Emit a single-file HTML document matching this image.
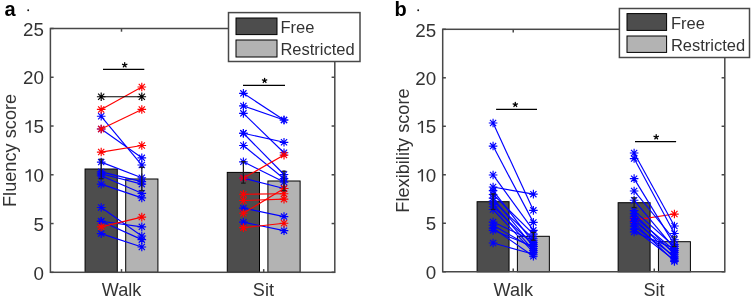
<!DOCTYPE html>
<html><head><meta charset="utf-8"><style>
html,body{margin:0;padding:0;background:#fff;width:752px;height:300px;overflow:hidden}
svg{display:block;filter:blur(0.35px)}
text{font-family:"Liberation Sans", sans-serif}
</style></head><body>
<svg width="752" height="300" viewBox="0 0 752 300" font-family='"Liberation Sans", sans-serif'>
<rect width="752" height="300" fill="#fff"/>
<rect x="50.4" y="28.5" width="284.4" height="243.8" fill="#fff"/>
<rect x="85.07" y="169" width="32.22" height="103.3" fill="#4d4d4d" stroke="#000" stroke-width="1"/>
<rect x="125.7" y="179" width="32.22" height="93.3" fill="#b3b3b3" stroke="#000" stroke-width="1"/>
<rect x="227.27" y="172.4" width="32.22" height="99.9" fill="#4d4d4d" stroke="#000" stroke-width="1"/>
<rect x="267.9" y="181" width="32.22" height="91.3" fill="#b3b3b3" stroke="#000" stroke-width="1"/>
<line x1="101.19" y1="116.27" x2="141.81" y2="165.03" stroke="#0000ff" stroke-width="1.15"/>
<path d="M96.89 116.27H105.49M101.19 111.97V120.57M98.09 113.17L104.28 119.36M98.09 119.36L104.28 113.17" stroke="#0000ff" stroke-width="1.15" fill="none"/>
<path d="M137.51 165.03H146.11M141.81 160.73V169.33M138.72 161.93L144.91 168.12M138.72 168.12L144.91 161.93" stroke="#0000ff" stroke-width="1.15" fill="none"/>
<line x1="101.19" y1="128.95" x2="141.81" y2="157.81" stroke="#0000ff" stroke-width="1.15"/>
<path d="M96.89 128.95H105.49M101.19 124.65V133.25M98.09 125.85L104.28 132.04M98.09 132.04L104.28 125.85" stroke="#0000ff" stroke-width="1.15" fill="none"/>
<path d="M137.51 157.81H146.11M141.81 153.51V162.11M138.72 154.72L144.91 160.91M138.72 160.91L144.91 154.72" stroke="#0000ff" stroke-width="1.15" fill="none"/>
<line x1="101.19" y1="162.1" x2="141.81" y2="177.71" stroke="#0000ff" stroke-width="1.15"/>
<path d="M96.89 162.1H105.49M101.19 157.8V166.4M98.09 159.01L104.28 165.2M98.09 165.2L104.28 159.01" stroke="#0000ff" stroke-width="1.15" fill="none"/>
<path d="M137.51 177.71H146.11M141.81 173.41V182.01M138.72 174.61L144.91 180.8M138.72 180.8L144.91 174.61" stroke="#0000ff" stroke-width="1.15" fill="none"/>
<line x1="101.19" y1="171.85" x2="141.81" y2="181.61" stroke="#0000ff" stroke-width="1.15"/>
<path d="M96.89 171.85H105.49M101.19 167.55V176.15M98.09 168.76L104.28 174.95M98.09 174.95L104.28 168.76" stroke="#0000ff" stroke-width="1.15" fill="none"/>
<path d="M137.51 181.61H146.11M141.81 177.31V185.91M138.72 178.51L144.91 184.7M138.72 184.7L144.91 178.51" stroke="#0000ff" stroke-width="1.15" fill="none"/>
<line x1="101.19" y1="173.8" x2="141.81" y2="184.14" stroke="#0000ff" stroke-width="1.15"/>
<path d="M96.89 173.8H105.49M101.19 169.5V178.1M98.09 170.71L104.28 176.9M98.09 176.9L104.28 170.71" stroke="#0000ff" stroke-width="1.15" fill="none"/>
<path d="M137.51 184.14H146.11M141.81 179.84V188.44M138.72 181.05L144.91 187.24M138.72 187.24L144.91 181.05" stroke="#0000ff" stroke-width="1.15" fill="none"/>
<line x1="101.19" y1="175.76" x2="141.81" y2="193.31" stroke="#0000ff" stroke-width="1.15"/>
<path d="M96.89 175.76H105.49M101.19 171.46V180.06M98.09 172.66L104.28 178.85M98.09 178.85L104.28 172.66" stroke="#0000ff" stroke-width="1.15" fill="none"/>
<path d="M137.51 193.31H146.11M141.81 189.01V197.61M138.72 190.21L144.91 196.4M138.72 196.4L144.91 190.21" stroke="#0000ff" stroke-width="1.15" fill="none"/>
<line x1="101.19" y1="184.14" x2="141.81" y2="197.89" stroke="#0000ff" stroke-width="1.15"/>
<path d="M96.89 184.14H105.49M101.19 179.84V188.44M98.09 181.05L104.28 187.24M98.09 187.24L104.28 181.05" stroke="#0000ff" stroke-width="1.15" fill="none"/>
<path d="M137.51 197.89H146.11M141.81 193.59V202.19M138.72 194.8L144.91 200.99M138.72 200.99L144.91 194.8" stroke="#0000ff" stroke-width="1.15" fill="none"/>
<line x1="101.19" y1="207.45" x2="141.81" y2="236.02" stroke="#0000ff" stroke-width="1.15"/>
<path d="M96.89 207.45H105.49M101.19 203.15V211.75M98.09 204.35L104.28 210.55M98.09 210.55L104.28 204.35" stroke="#0000ff" stroke-width="1.15" fill="none"/>
<path d="M137.51 236.02H146.11M141.81 231.72V240.32M138.72 232.93L144.91 239.12M138.72 239.12L144.91 232.93" stroke="#0000ff" stroke-width="1.15" fill="none"/>
<line x1="101.19" y1="221.3" x2="141.81" y2="226.86" stroke="#0000ff" stroke-width="1.15"/>
<path d="M96.89 221.3H105.49M101.19 217V225.6M98.09 218.2L104.28 224.39M98.09 224.39L104.28 218.2" stroke="#0000ff" stroke-width="1.15" fill="none"/>
<path d="M137.51 226.86H146.11M141.81 222.56V231.16M138.72 223.76L144.91 229.95M138.72 229.95L144.91 223.76" stroke="#0000ff" stroke-width="1.15" fill="none"/>
<line x1="101.19" y1="221.3" x2="141.81" y2="239.63" stroke="#0000ff" stroke-width="1.15"/>
<path d="M96.89 221.3H105.49M101.19 217V225.6M98.09 218.2L104.28 224.39M98.09 224.39L104.28 218.2" stroke="#0000ff" stroke-width="1.15" fill="none"/>
<path d="M137.51 239.63H146.11M141.81 235.33V243.93M138.72 236.53L144.91 242.73M138.72 242.73L144.91 236.53" stroke="#0000ff" stroke-width="1.15" fill="none"/>
<line x1="101.19" y1="233.58" x2="141.81" y2="247.04" stroke="#0000ff" stroke-width="1.15"/>
<path d="M96.89 233.58H105.49M101.19 229.28V237.88M98.09 230.49L104.28 236.68M98.09 236.68L104.28 230.49" stroke="#0000ff" stroke-width="1.15" fill="none"/>
<path d="M137.51 247.04H146.11M141.81 242.74V251.34M138.72 243.95L144.91 250.14M138.72 250.14L144.91 243.95" stroke="#0000ff" stroke-width="1.15" fill="none"/>
<line x1="101.19" y1="109.44" x2="141.81" y2="87.01" stroke="#ff0000" stroke-width="1.15"/>
<path d="M96.89 109.44H105.49M101.19 105.14V113.74M98.09 106.35L104.28 112.54M98.09 112.54L104.28 106.35" stroke="#ff0000" stroke-width="1.15" fill="none"/>
<path d="M137.51 87.01H146.11M141.81 82.71V91.31M138.72 83.92L144.91 90.11M138.72 90.11L144.91 83.92" stroke="#ff0000" stroke-width="1.15" fill="none"/>
<line x1="101.19" y1="128.95" x2="141.81" y2="109.44" stroke="#ff0000" stroke-width="1.15"/>
<path d="M96.89 128.95H105.49M101.19 124.65V133.25M98.09 125.85L104.28 132.04M98.09 132.04L104.28 125.85" stroke="#ff0000" stroke-width="1.15" fill="none"/>
<path d="M137.51 109.44H146.11M141.81 105.14V113.74M138.72 106.35L144.91 112.54M138.72 112.54L144.91 106.35" stroke="#ff0000" stroke-width="1.15" fill="none"/>
<line x1="101.19" y1="152.06" x2="141.81" y2="145.52" stroke="#ff0000" stroke-width="1.15"/>
<path d="M96.89 152.06H105.49M101.19 147.76V156.36M98.09 148.96L104.28 155.15M98.09 155.15L104.28 148.96" stroke="#ff0000" stroke-width="1.15" fill="none"/>
<path d="M137.51 145.52H146.11M141.81 141.22V149.82M138.72 142.43L144.91 148.62M138.72 148.62L144.91 142.43" stroke="#ff0000" stroke-width="1.15" fill="none"/>
<line x1="101.19" y1="226.86" x2="141.81" y2="217.1" stroke="#ff0000" stroke-width="1.15"/>
<path d="M96.89 226.86H105.49M101.19 222.56V231.16M98.09 223.76L104.28 229.95M98.09 229.95L104.28 223.76" stroke="#ff0000" stroke-width="1.15" fill="none"/>
<path d="M137.51 217.1H146.11M141.81 212.8V221.4M138.72 214.01L144.91 220.2M138.72 220.2L144.91 214.01" stroke="#ff0000" stroke-width="1.15" fill="none"/>
<line x1="101.19" y1="96.76" x2="141.81" y2="96.76" stroke="#000000" stroke-width="1.15"/>
<path d="M96.89 96.76H105.49M101.19 92.46V101.06M98.09 93.67L104.28 99.86M98.09 99.86L104.28 93.67" stroke="#000000" stroke-width="1.15" fill="none"/>
<path d="M137.51 96.76H146.11M141.81 92.46V101.06M138.72 93.67L144.91 99.86M138.72 99.86L144.91 93.67" stroke="#000000" stroke-width="1.15" fill="none"/>
<line x1="101.19" y1="178.75" x2="101.19" y2="159.25" stroke="#1a1a1a" stroke-width="1.25"/>
<line x1="98.89" y1="178.75" x2="103.49" y2="178.75" stroke="#1a1a1a" stroke-width="1.25"/>
<line x1="98.89" y1="159.25" x2="103.49" y2="159.25" stroke="#1a1a1a" stroke-width="1.25"/>
<line x1="141.81" y1="190.7" x2="141.81" y2="167.3" stroke="#1a1a1a" stroke-width="1.25"/>
<line x1="139.51" y1="190.7" x2="144.11" y2="190.7" stroke="#1a1a1a" stroke-width="1.25"/>
<line x1="139.51" y1="167.3" x2="144.11" y2="167.3" stroke="#1a1a1a" stroke-width="1.25"/>
<line x1="243.39" y1="93.35" x2="284.01" y2="119.97" stroke="#0000ff" stroke-width="1.15"/>
<path d="M239.09 93.35H247.69M243.39 89.05V97.65M240.29 90.25L246.48 96.45M240.29 96.45L246.48 90.25" stroke="#0000ff" stroke-width="1.15" fill="none"/>
<path d="M279.71 119.97H288.31M284.01 115.67V124.27M280.92 116.88L287.11 123.07M280.92 123.07L287.11 116.88" stroke="#0000ff" stroke-width="1.15" fill="none"/>
<line x1="243.39" y1="105.93" x2="284.01" y2="119.97" stroke="#0000ff" stroke-width="1.15"/>
<path d="M239.09 105.93H247.69M243.39 101.63V110.23M240.29 102.83L246.48 109.03M240.29 109.03L246.48 102.83" stroke="#0000ff" stroke-width="1.15" fill="none"/>
<path d="M279.71 119.97H288.31M284.01 115.67V124.27M280.92 116.88L287.11 123.07M280.92 123.07L287.11 116.88" stroke="#0000ff" stroke-width="1.15" fill="none"/>
<line x1="243.39" y1="113.34" x2="284.01" y2="152.74" stroke="#0000ff" stroke-width="1.15"/>
<path d="M239.09 113.34H247.69M243.39 109.04V117.64M240.29 110.25L246.48 116.44M240.29 116.44L246.48 110.25" stroke="#0000ff" stroke-width="1.15" fill="none"/>
<path d="M279.71 152.74H288.31M284.01 148.44V157.04M280.92 149.64L287.11 155.84M280.92 155.84L287.11 149.64" stroke="#0000ff" stroke-width="1.15" fill="none"/>
<line x1="243.39" y1="133.24" x2="284.01" y2="142.31" stroke="#0000ff" stroke-width="1.15"/>
<path d="M239.09 133.24H247.69M243.39 128.94V137.54M240.29 130.14L246.48 136.33M240.29 136.33L246.48 130.14" stroke="#0000ff" stroke-width="1.15" fill="none"/>
<path d="M279.71 142.31H288.31M284.01 138.01V146.61M280.92 139.21L287.11 145.4M280.92 145.4L287.11 139.21" stroke="#0000ff" stroke-width="1.15" fill="none"/>
<line x1="243.39" y1="133.24" x2="284.01" y2="174.49" stroke="#0000ff" stroke-width="1.15"/>
<path d="M239.09 133.24H247.69M243.39 128.94V137.54M240.29 130.14L246.48 136.33M240.29 136.33L246.48 130.14" stroke="#0000ff" stroke-width="1.15" fill="none"/>
<path d="M279.71 174.49H288.31M284.01 170.19V178.79M280.92 171.39L287.11 177.58M280.92 177.58L287.11 171.39" stroke="#0000ff" stroke-width="1.15" fill="none"/>
<line x1="243.39" y1="145.52" x2="284.01" y2="178.68" stroke="#0000ff" stroke-width="1.15"/>
<path d="M239.09 145.52H247.69M243.39 141.22V149.82M240.29 142.43L246.48 148.62M240.29 148.62L246.48 142.43" stroke="#0000ff" stroke-width="1.15" fill="none"/>
<path d="M279.71 178.68H288.31M284.01 174.38V182.98M280.92 175.58L287.11 181.78M280.92 181.78L287.11 175.58" stroke="#0000ff" stroke-width="1.15" fill="none"/>
<line x1="243.39" y1="161.81" x2="284.01" y2="182.09" stroke="#0000ff" stroke-width="1.15"/>
<path d="M239.09 161.81H247.69M243.39 157.51V166.11M240.29 158.71L246.48 164.91M240.29 164.91L246.48 158.71" stroke="#0000ff" stroke-width="1.15" fill="none"/>
<path d="M279.71 182.09H288.31M284.01 177.79V186.39M280.92 179L287.11 185.19M280.92 185.19L287.11 179" stroke="#0000ff" stroke-width="1.15" fill="none"/>
<line x1="243.39" y1="178.1" x2="284.01" y2="188.53" stroke="#0000ff" stroke-width="1.15"/>
<path d="M239.09 178.1H247.69M243.39 173.8V182.4M240.29 175L246.48 181.19M240.29 181.19L246.48 175" stroke="#0000ff" stroke-width="1.15" fill="none"/>
<path d="M279.71 188.53H288.31M284.01 184.23V192.83M280.92 185.43L287.11 191.63M280.92 191.63L287.11 185.43" stroke="#0000ff" stroke-width="1.15" fill="none"/>
<line x1="243.39" y1="208.13" x2="284.01" y2="216.62" stroke="#0000ff" stroke-width="1.15"/>
<path d="M239.09 208.13H247.69M243.39 203.83V212.43M240.29 205.04L246.48 211.23M240.29 211.23L246.48 205.04" stroke="#0000ff" stroke-width="1.15" fill="none"/>
<path d="M279.71 216.62H288.31M284.01 212.32V220.92M280.92 213.52L287.11 219.71M280.92 219.71L287.11 213.52" stroke="#0000ff" stroke-width="1.15" fill="none"/>
<line x1="243.39" y1="222.17" x2="284.01" y2="230.66" stroke="#0000ff" stroke-width="1.15"/>
<path d="M239.09 222.17H247.69M243.39 217.87V226.47M240.29 219.08L246.48 225.27M240.29 225.27L246.48 219.08" stroke="#0000ff" stroke-width="1.15" fill="none"/>
<path d="M279.71 230.66H288.31M284.01 226.36V234.96M280.92 227.56L287.11 233.75M280.92 233.75L287.11 227.56" stroke="#0000ff" stroke-width="1.15" fill="none"/>
<line x1="243.39" y1="178.1" x2="284.01" y2="155.08" stroke="#ff0000" stroke-width="1.15"/>
<path d="M239.09 178.1H247.69M243.39 173.8V182.4M240.29 175L246.48 181.19M240.29 181.19L246.48 175" stroke="#ff0000" stroke-width="1.15" fill="none"/>
<path d="M279.71 155.08H288.31M284.01 150.78V159.38M280.92 151.98L287.11 158.18M280.92 158.18L287.11 151.98" stroke="#ff0000" stroke-width="1.15" fill="none"/>
<line x1="243.39" y1="194.28" x2="284.01" y2="193.7" stroke="#ff0000" stroke-width="1.15"/>
<path d="M239.09 194.28H247.69M243.39 189.98V198.58M240.29 191.19L246.48 197.38M240.29 197.38L246.48 191.19" stroke="#ff0000" stroke-width="1.15" fill="none"/>
<path d="M279.71 193.7H288.31M284.01 189.4V198M280.92 190.6L287.11 196.79M280.92 196.79L287.11 190.6" stroke="#ff0000" stroke-width="1.15" fill="none"/>
<line x1="243.39" y1="200.53" x2="284.01" y2="199.16" stroke="#ff0000" stroke-width="1.15"/>
<path d="M239.09 200.53H247.69M243.39 196.23V204.83M240.29 197.43L246.48 203.62M240.29 203.62L246.48 197.43" stroke="#ff0000" stroke-width="1.15" fill="none"/>
<path d="M279.71 199.16H288.31M284.01 194.86V203.46M280.92 196.06L287.11 202.26M280.92 202.26L287.11 196.06" stroke="#ff0000" stroke-width="1.15" fill="none"/>
<line x1="243.39" y1="213.2" x2="284.01" y2="188.53" stroke="#ff0000" stroke-width="1.15"/>
<path d="M239.09 213.2H247.69M243.39 208.9V217.5M240.29 210.11L246.48 216.3M240.29 216.3L246.48 210.11" stroke="#ff0000" stroke-width="1.15" fill="none"/>
<path d="M279.71 188.53H288.31M284.01 184.23V192.83M280.92 185.43L287.11 191.63M280.92 191.63L287.11 185.43" stroke="#ff0000" stroke-width="1.15" fill="none"/>
<line x1="243.39" y1="227.64" x2="284.01" y2="223.25" stroke="#ff0000" stroke-width="1.15"/>
<path d="M239.09 227.64H247.69M243.39 223.34V231.94M240.29 224.54L246.48 230.73M240.29 230.73L246.48 224.54" stroke="#ff0000" stroke-width="1.15" fill="none"/>
<path d="M279.71 223.25H288.31M284.01 218.95V227.55M280.92 220.15L287.11 226.34M280.92 226.34L287.11 220.15" stroke="#ff0000" stroke-width="1.15" fill="none"/>
<line x1="243.39" y1="183.13" x2="243.39" y2="161.67" stroke="#1a1a1a" stroke-width="1.25"/>
<line x1="241.09" y1="183.13" x2="245.69" y2="183.13" stroke="#1a1a1a" stroke-width="1.25"/>
<line x1="241.09" y1="161.67" x2="245.69" y2="161.67" stroke="#1a1a1a" stroke-width="1.25"/>
<line x1="284.01" y1="190.75" x2="284.01" y2="171.25" stroke="#1a1a1a" stroke-width="1.25"/>
<line x1="281.71" y1="190.75" x2="286.31" y2="190.75" stroke="#1a1a1a" stroke-width="1.25"/>
<line x1="281.71" y1="171.25" x2="286.31" y2="171.25" stroke="#1a1a1a" stroke-width="1.25"/>
<line x1="103" y1="69.3" x2="144.3" y2="69.3" stroke="#000000" stroke-width="1.35"/>
<path d="M124.7 65L124.7 62.7M124.7 65L126.89 64.29M124.7 65L126.05 66.86M124.7 65L123.35 66.86M124.7 65L122.51 64.29" stroke="#000" stroke-width="1.3" stroke-linecap="round" fill="none"/>
<line x1="243" y1="85.3" x2="285" y2="85.3" stroke="#000000" stroke-width="1.35"/>
<path d="M264.6 80.6L264.6 78.3M264.6 80.6L266.79 79.89M264.6 80.6L265.95 82.46M264.6 80.6L263.25 82.46M264.6 80.6L262.41 79.89" stroke="#000" stroke-width="1.3" stroke-linecap="round" fill="none"/>
<rect x="50.4" y="28.5" width="284.4" height="243.8" fill="none" stroke="#484848" stroke-width="1.5"/>
<line x1="50.4" y1="272.3" x2="53.6" y2="272.3" stroke="#484848" stroke-width="1.5"/>
<line x1="334.8" y1="272.3" x2="331.6" y2="272.3" stroke="#484848" stroke-width="1.5"/>
<text x="43.9" y="279.5" font-size="18.8" text-anchor="end" font-weight="normal" fill="#333333" >0</text>
<line x1="50.4" y1="223.54" x2="53.6" y2="223.54" stroke="#484848" stroke-width="1.5"/>
<line x1="334.8" y1="223.54" x2="331.6" y2="223.54" stroke="#484848" stroke-width="1.5"/>
<text x="43.9" y="230.74" font-size="18.8" text-anchor="end" font-weight="normal" fill="#333333" >5</text>
<line x1="50.4" y1="174.78" x2="53.6" y2="174.78" stroke="#484848" stroke-width="1.5"/>
<line x1="334.8" y1="174.78" x2="331.6" y2="174.78" stroke="#484848" stroke-width="1.5"/>
<text x="43.9" y="181.98" font-size="18.8" text-anchor="end" font-weight="normal" fill="#333333" >0</text>
<path d="M29.95 169.38V181.48" stroke="#333333" stroke-width="1.6" fill="none"/>
<path d="M29.75 169.48C28.95 171.18 27.15 172.18 25.55 172.58" stroke="#333333" stroke-width="1.5" fill="none"/>
<line x1="50.4" y1="126.02" x2="53.6" y2="126.02" stroke="#484848" stroke-width="1.5"/>
<line x1="334.8" y1="126.02" x2="331.6" y2="126.02" stroke="#484848" stroke-width="1.5"/>
<text x="43.9" y="133.22" font-size="18.8" text-anchor="end" font-weight="normal" fill="#333333" >5</text>
<path d="M29.95 120.62V132.72" stroke="#333333" stroke-width="1.6" fill="none"/>
<path d="M29.75 120.72C28.95 122.42 27.15 123.42 25.55 123.82" stroke="#333333" stroke-width="1.5" fill="none"/>
<line x1="50.4" y1="77.26" x2="53.6" y2="77.26" stroke="#484848" stroke-width="1.5"/>
<line x1="334.8" y1="77.26" x2="331.6" y2="77.26" stroke="#484848" stroke-width="1.5"/>
<text x="43.9" y="84.46" font-size="18.8" text-anchor="end" font-weight="normal" fill="#333333" >20</text>
<line x1="50.4" y1="28.5" x2="53.6" y2="28.5" stroke="#484848" stroke-width="1.5"/>
<line x1="334.8" y1="28.5" x2="331.6" y2="28.5" stroke="#484848" stroke-width="1.5"/>
<text x="43.9" y="35.7" font-size="18.8" text-anchor="end" font-weight="normal" fill="#333333" >25</text>
<line x1="121.5" y1="272.3" x2="121.5" y2="269.1" stroke="#484848" stroke-width="1.5"/>
<line x1="121.5" y1="28.5" x2="121.5" y2="31.7" stroke="#484848" stroke-width="1.5"/>
<line x1="263.7" y1="272.3" x2="263.7" y2="269.1" stroke="#484848" stroke-width="1.5"/>
<line x1="263.7" y1="28.5" x2="263.7" y2="31.7" stroke="#484848" stroke-width="1.5"/>
<text x="121.6" y="296.3" font-size="18.1" text-anchor="middle" font-weight="normal" fill="#333333" >Walk</text>
<text x="263.4" y="295.5" font-size="18.1" text-anchor="middle" font-weight="normal" fill="#333333" >Sit</text>
<text x="0" y="0" font-size="18.2" text-anchor="middle" font-weight="normal" fill="#333333" transform="translate(15.5 150.4) rotate(-90)">Fluency score</text>
<rect x="228.5" y="12.6" width="131.5" height="48.9" fill="#fff" stroke="#484848" stroke-width="1.5"/>
<rect x="236" y="18" width="41" height="16.6" fill="#4d4d4d" stroke="#000" stroke-width="1"/>
<rect x="236" y="40" width="41" height="17" fill="#b3b3b3" stroke="#000" stroke-width="1"/>
<text x="280.4" y="32.8" font-size="16.5" text-anchor="start" font-weight="normal" fill="#333333" >Free</text>
<text x="280.4" y="55" font-size="16.5" text-anchor="start" font-weight="normal" fill="#333333" >Restricted</text>
<text x="4.5" y="16.2" font-size="20" text-anchor="start" font-weight="bold" fill="#000" >a</text>
<circle cx="28.2" cy="10.2" r="0.95" fill="#111"/>
<rect x="442.7" y="29.3" width="282.1" height="242.45" fill="#fff"/>
<rect x="477.09" y="201.7" width="31.96" height="70.05" fill="#4d4d4d" stroke="#000" stroke-width="1"/>
<rect x="517.39" y="236.3" width="31.96" height="35.45" fill="#b3b3b3" stroke="#000" stroke-width="1"/>
<rect x="618.14" y="202.7" width="31.96" height="69.05" fill="#4d4d4d" stroke="#000" stroke-width="1"/>
<rect x="658.44" y="241.7" width="31.96" height="30.05" fill="#b3b3b3" stroke="#000" stroke-width="1"/>
<line x1="493.08" y1="122.98" x2="533.38" y2="210.36" stroke="#0000ff" stroke-width="1.15"/>
<path d="M488.78 122.98H497.38M493.08 118.68V127.28M489.98 119.89L496.17 126.08M489.98 126.08L496.17 119.89" stroke="#0000ff" stroke-width="1.15" fill="none"/>
<path d="M529.08 210.36H537.67M533.38 206.06V214.66M530.28 207.27L536.47 213.46M530.28 213.46L536.47 207.27" stroke="#0000ff" stroke-width="1.15" fill="none"/>
<line x1="493.08" y1="146.06" x2="533.38" y2="222.39" stroke="#0000ff" stroke-width="1.15"/>
<path d="M488.78 146.06H497.38M493.08 141.76V150.36M489.98 142.97L496.17 149.16M489.98 149.16L496.17 142.97" stroke="#0000ff" stroke-width="1.15" fill="none"/>
<path d="M529.08 222.39H537.67M533.38 218.09V226.69M530.28 219.29L536.47 225.48M530.28 225.48L536.47 219.29" stroke="#0000ff" stroke-width="1.15" fill="none"/>
<line x1="493.08" y1="174.96" x2="533.38" y2="230.34" stroke="#0000ff" stroke-width="1.15"/>
<path d="M488.78 174.96H497.38M493.08 170.66V179.26M489.98 171.87L496.17 178.06M489.98 178.06L496.17 171.87" stroke="#0000ff" stroke-width="1.15" fill="none"/>
<path d="M529.08 230.34H537.67M533.38 226.04V234.64M530.28 227.24L536.47 233.44M530.28 233.44L536.47 227.24" stroke="#0000ff" stroke-width="1.15" fill="none"/>
<line x1="493.08" y1="186.99" x2="533.38" y2="194.17" stroke="#0000ff" stroke-width="1.15"/>
<path d="M488.78 186.99H497.38M493.08 182.69V191.29M489.98 183.89L496.17 190.09M489.98 190.09L496.17 183.89" stroke="#0000ff" stroke-width="1.15" fill="none"/>
<path d="M529.08 194.17H537.67M533.38 189.87V198.47M530.28 191.07L536.47 197.26M530.28 197.26L536.47 191.07" stroke="#0000ff" stroke-width="1.15" fill="none"/>
<line x1="493.08" y1="190.58" x2="533.38" y2="242.66" stroke="#0000ff" stroke-width="1.15"/>
<path d="M488.78 190.58H497.38M493.08 186.28V194.88M489.98 187.48L496.17 193.67M489.98 193.67L496.17 187.48" stroke="#0000ff" stroke-width="1.15" fill="none"/>
<path d="M529.08 242.66H537.67M533.38 238.36V246.96M530.28 239.56L536.47 245.75M530.28 245.75L536.47 239.56" stroke="#0000ff" stroke-width="1.15" fill="none"/>
<line x1="493.08" y1="194.46" x2="533.38" y2="234.12" stroke="#0000ff" stroke-width="1.15"/>
<path d="M488.78 194.46H497.38M493.08 190.16V198.76M489.98 191.36L496.17 197.55M489.98 197.55L496.17 191.36" stroke="#0000ff" stroke-width="1.15" fill="none"/>
<path d="M529.08 234.12H537.67M533.38 229.82V238.42M530.28 231.03L536.47 237.22M530.28 237.22L536.47 231.03" stroke="#0000ff" stroke-width="1.15" fill="none"/>
<line x1="493.08" y1="198.05" x2="533.38" y2="246.54" stroke="#0000ff" stroke-width="1.15"/>
<path d="M488.78 198.05H497.38M493.08 193.75V202.35M489.98 194.95L496.17 201.14M489.98 201.14L496.17 194.95" stroke="#0000ff" stroke-width="1.15" fill="none"/>
<path d="M529.08 246.54H537.67M533.38 242.24V250.84M530.28 243.44L536.47 249.63M530.28 249.63L536.47 243.44" stroke="#0000ff" stroke-width="1.15" fill="none"/>
<line x1="493.08" y1="200.95" x2="533.38" y2="238.78" stroke="#0000ff" stroke-width="1.15"/>
<path d="M488.78 200.95H497.38M493.08 196.65V205.25M489.98 197.86L496.17 204.05M489.98 204.05L496.17 197.86" stroke="#0000ff" stroke-width="1.15" fill="none"/>
<path d="M529.08 238.78H537.67M533.38 234.48V243.08M530.28 235.68L536.47 241.87M530.28 241.87L536.47 235.68" stroke="#0000ff" stroke-width="1.15" fill="none"/>
<line x1="493.08" y1="203.86" x2="533.38" y2="250.41" stroke="#0000ff" stroke-width="1.15"/>
<path d="M488.78 203.86H497.38M493.08 199.56V208.16M489.98 200.77L496.17 206.96M489.98 206.96L496.17 200.77" stroke="#0000ff" stroke-width="1.15" fill="none"/>
<path d="M529.08 250.41H537.67M533.38 246.11V254.71M530.28 247.32L536.47 253.51M530.28 253.51L536.47 247.32" stroke="#0000ff" stroke-width="1.15" fill="none"/>
<line x1="493.08" y1="206.77" x2="533.38" y2="244.6" stroke="#0000ff" stroke-width="1.15"/>
<path d="M488.78 206.77H497.38M493.08 202.47V211.07M489.98 203.68L496.17 209.87M489.98 209.87L496.17 203.68" stroke="#0000ff" stroke-width="1.15" fill="none"/>
<path d="M529.08 244.6H537.67M533.38 240.3V248.9M530.28 241.5L536.47 247.69M530.28 247.69L536.47 241.5" stroke="#0000ff" stroke-width="1.15" fill="none"/>
<line x1="493.08" y1="209.49" x2="533.38" y2="252.35" stroke="#0000ff" stroke-width="1.15"/>
<path d="M488.78 209.49H497.38M493.08 205.19V213.79M489.98 206.39L496.17 212.58M489.98 212.58L496.17 206.39" stroke="#0000ff" stroke-width="1.15" fill="none"/>
<path d="M529.08 252.35H537.67M533.38 248.05V256.65M530.28 249.26L536.47 255.45M530.28 255.45L536.47 249.26" stroke="#0000ff" stroke-width="1.15" fill="none"/>
<line x1="493.08" y1="222.1" x2="533.38" y2="240.72" stroke="#0000ff" stroke-width="1.15"/>
<path d="M488.78 222.1H497.38M493.08 217.8V226.4M489.98 219L496.17 225.19M489.98 225.19L496.17 219" stroke="#0000ff" stroke-width="1.15" fill="none"/>
<path d="M529.08 240.72H537.67M533.38 236.42V245.02M530.28 237.62L536.47 243.81M530.28 243.81L536.47 237.62" stroke="#0000ff" stroke-width="1.15" fill="none"/>
<line x1="493.08" y1="225.2" x2="533.38" y2="248.47" stroke="#0000ff" stroke-width="1.15"/>
<path d="M488.78 225.2H497.38M493.08 220.9V229.5M489.98 222.1L496.17 228.3M489.98 228.3L496.17 222.1" stroke="#0000ff" stroke-width="1.15" fill="none"/>
<path d="M529.08 248.47H537.67M533.38 244.17V252.77M530.28 245.38L536.47 251.57M530.28 251.57L536.47 245.38" stroke="#0000ff" stroke-width="1.15" fill="none"/>
<line x1="493.08" y1="228.11" x2="533.38" y2="256.23" stroke="#0000ff" stroke-width="1.15"/>
<path d="M488.78 228.11H497.38M493.08 223.81V232.41M489.98 225.01L496.17 231.2M489.98 231.2L496.17 225.01" stroke="#0000ff" stroke-width="1.15" fill="none"/>
<path d="M529.08 256.23H537.67M533.38 251.93V260.53M530.28 253.14L536.47 259.33M530.28 259.33L536.47 253.14" stroke="#0000ff" stroke-width="1.15" fill="none"/>
<line x1="493.08" y1="230.34" x2="533.38" y2="246.54" stroke="#0000ff" stroke-width="1.15"/>
<path d="M488.78 230.34H497.38M493.08 226.04V234.64M489.98 227.24L496.17 233.44M489.98 233.44L496.17 227.24" stroke="#0000ff" stroke-width="1.15" fill="none"/>
<path d="M529.08 246.54H537.67M533.38 242.24V250.84M530.28 243.44L536.47 249.63M530.28 249.63L536.47 243.44" stroke="#0000ff" stroke-width="1.15" fill="none"/>
<line x1="493.08" y1="242.95" x2="533.38" y2="254.29" stroke="#0000ff" stroke-width="1.15"/>
<path d="M488.78 242.95H497.38M493.08 238.65V247.25M489.98 239.85L496.17 246.04M489.98 246.04L496.17 239.85" stroke="#0000ff" stroke-width="1.15" fill="none"/>
<path d="M529.08 254.29H537.67M533.38 249.99V258.59M530.28 251.2L536.47 257.39M530.28 257.39L536.47 251.2" stroke="#0000ff" stroke-width="1.15" fill="none"/>
<line x1="493.08" y1="209.46" x2="493.08" y2="193.94" stroke="#1a1a1a" stroke-width="1.25"/>
<line x1="490.78" y1="209.46" x2="495.38" y2="209.46" stroke="#1a1a1a" stroke-width="1.25"/>
<line x1="490.78" y1="193.94" x2="495.38" y2="193.94" stroke="#1a1a1a" stroke-width="1.25"/>
<line x1="533.38" y1="240.18" x2="533.38" y2="232.42" stroke="#1a1a1a" stroke-width="1.25"/>
<line x1="531.08" y1="240.18" x2="535.67" y2="240.18" stroke="#1a1a1a" stroke-width="1.25"/>
<line x1="531.08" y1="232.42" x2="535.67" y2="232.42" stroke="#1a1a1a" stroke-width="1.25"/>
<line x1="634.12" y1="220.06" x2="674.42" y2="214.05" stroke="#ff0000" stroke-width="1.15"/>
<path d="M629.83 220.06H638.42M634.12 215.76V224.36M631.03 216.96L637.22 223.16M631.03 223.16L637.22 216.96" stroke="#ff0000" stroke-width="1.15" fill="none"/>
<path d="M670.12 214.05H678.72M674.42 209.75V218.35M671.33 210.95L677.52 217.14M671.33 217.14L677.52 210.95" stroke="#ff0000" stroke-width="1.15" fill="none"/>
<line x1="634.12" y1="152.95" x2="674.42" y2="225.98" stroke="#0000ff" stroke-width="1.15"/>
<path d="M629.83 152.95H638.42M634.12 148.65V157.25M631.03 149.85L637.22 156.05M631.03 156.05L637.22 149.85" stroke="#0000ff" stroke-width="1.15" fill="none"/>
<path d="M670.12 225.98H678.72M674.42 221.68V230.28M671.33 222.88L677.52 229.07M671.33 229.07L677.52 222.88" stroke="#0000ff" stroke-width="1.15" fill="none"/>
<line x1="634.12" y1="158.57" x2="674.42" y2="233.54" stroke="#0000ff" stroke-width="1.15"/>
<path d="M629.83 158.57H638.42M634.12 154.27V162.87M631.03 155.48L637.22 161.67M631.03 161.67L637.22 155.48" stroke="#0000ff" stroke-width="1.15" fill="none"/>
<path d="M670.12 233.54H678.72M674.42 229.24V237.84M671.33 230.44L677.52 236.64M671.33 236.64L677.52 230.44" stroke="#0000ff" stroke-width="1.15" fill="none"/>
<line x1="634.12" y1="178.65" x2="674.42" y2="244.6" stroke="#0000ff" stroke-width="1.15"/>
<path d="M629.83 178.65H638.42M634.12 174.35V182.95M631.03 175.55L637.22 181.75M631.03 181.75L637.22 175.55" stroke="#0000ff" stroke-width="1.15" fill="none"/>
<path d="M670.12 244.6H678.72M674.42 240.3V248.9M671.33 241.5L677.52 247.69M671.33 247.69L677.52 241.5" stroke="#0000ff" stroke-width="1.15" fill="none"/>
<line x1="634.12" y1="190.97" x2="674.42" y2="239.75" stroke="#0000ff" stroke-width="1.15"/>
<path d="M629.83 190.97H638.42M634.12 186.67V195.27M631.03 187.87L637.22 194.06M631.03 194.06L637.22 187.87" stroke="#0000ff" stroke-width="1.15" fill="none"/>
<path d="M670.12 239.75H678.72M674.42 235.45V244.05M671.33 236.65L677.52 242.84M671.33 242.84L677.52 236.65" stroke="#0000ff" stroke-width="1.15" fill="none"/>
<line x1="634.12" y1="200.28" x2="674.42" y2="248.47" stroke="#0000ff" stroke-width="1.15"/>
<path d="M629.83 200.28H638.42M634.12 195.98V204.58M631.03 197.18L637.22 203.37M631.03 203.37L637.22 197.18" stroke="#0000ff" stroke-width="1.15" fill="none"/>
<path d="M670.12 248.47H678.72M674.42 244.17V252.77M671.33 245.38L677.52 251.57M671.33 251.57L677.52 245.38" stroke="#0000ff" stroke-width="1.15" fill="none"/>
<line x1="634.12" y1="210.65" x2="674.42" y2="246.54" stroke="#0000ff" stroke-width="1.15"/>
<path d="M629.83 210.65H638.42M634.12 206.35V214.95M631.03 207.56L637.22 213.75M631.03 213.75L637.22 207.56" stroke="#0000ff" stroke-width="1.15" fill="none"/>
<path d="M670.12 246.54H678.72M674.42 242.24V250.84M671.33 243.44L677.52 249.63M671.33 249.63L677.52 243.44" stroke="#0000ff" stroke-width="1.15" fill="none"/>
<line x1="634.12" y1="213.56" x2="674.42" y2="254.29" stroke="#0000ff" stroke-width="1.15"/>
<path d="M629.83 213.56H638.42M634.12 209.26V217.86M631.03 210.47L637.22 216.66M631.03 216.66L637.22 210.47" stroke="#0000ff" stroke-width="1.15" fill="none"/>
<path d="M670.12 254.29H678.72M674.42 249.99V258.59M671.33 251.2L677.52 257.39M671.33 257.39L677.52 251.2" stroke="#0000ff" stroke-width="1.15" fill="none"/>
<line x1="634.12" y1="216.47" x2="674.42" y2="250.41" stroke="#0000ff" stroke-width="1.15"/>
<path d="M629.83 216.47H638.42M634.12 212.17V220.77M631.03 213.38L637.22 219.57M631.03 219.57L637.22 213.38" stroke="#0000ff" stroke-width="1.15" fill="none"/>
<path d="M670.12 250.41H678.72M674.42 246.11V254.71M671.33 247.32L677.52 253.51M671.33 253.51L677.52 247.32" stroke="#0000ff" stroke-width="1.15" fill="none"/>
<line x1="634.12" y1="218.41" x2="674.42" y2="258.17" stroke="#0000ff" stroke-width="1.15"/>
<path d="M629.83 218.41H638.42M634.12 214.11V222.71M631.03 215.31L637.22 221.51M631.03 221.51L637.22 215.31" stroke="#0000ff" stroke-width="1.15" fill="none"/>
<path d="M670.12 258.17H678.72M674.42 253.87V262.47M671.33 255.08L677.52 261.27M671.33 261.27L677.52 255.08" stroke="#0000ff" stroke-width="1.15" fill="none"/>
<line x1="634.12" y1="221.32" x2="674.42" y2="252.35" stroke="#0000ff" stroke-width="1.15"/>
<path d="M629.83 221.32H638.42M634.12 217.02V225.62M631.03 218.22L637.22 224.42M631.03 224.42L637.22 218.22" stroke="#0000ff" stroke-width="1.15" fill="none"/>
<path d="M670.12 252.35H678.72M674.42 248.05V256.65M671.33 249.26L677.52 255.45M671.33 255.45L677.52 249.26" stroke="#0000ff" stroke-width="1.15" fill="none"/>
<line x1="634.12" y1="223.26" x2="674.42" y2="261.37" stroke="#0000ff" stroke-width="1.15"/>
<path d="M629.83 223.26H638.42M634.12 218.96V227.56M631.03 220.16L637.22 226.36M631.03 226.36L637.22 220.16" stroke="#0000ff" stroke-width="1.15" fill="none"/>
<path d="M670.12 261.37H678.72M674.42 257.07V265.67M671.33 258.28L677.52 264.47M671.33 264.47L677.52 258.28" stroke="#0000ff" stroke-width="1.15" fill="none"/>
<line x1="634.12" y1="226.17" x2="674.42" y2="256.23" stroke="#0000ff" stroke-width="1.15"/>
<path d="M629.83 226.17H638.42M634.12 221.87V230.47M631.03 223.07L637.22 229.27M631.03 229.27L637.22 223.07" stroke="#0000ff" stroke-width="1.15" fill="none"/>
<path d="M670.12 256.23H678.72M674.42 251.93V260.53M671.33 253.14L677.52 259.33M671.33 259.33L677.52 253.14" stroke="#0000ff" stroke-width="1.15" fill="none"/>
<line x1="634.12" y1="229.08" x2="674.42" y2="260.11" stroke="#0000ff" stroke-width="1.15"/>
<path d="M629.83 229.08H638.42M634.12 224.78V233.38M631.03 225.98L637.22 232.17M631.03 232.17L637.22 225.98" stroke="#0000ff" stroke-width="1.15" fill="none"/>
<path d="M670.12 260.11H678.72M674.42 255.81V264.41M671.33 257.02L677.52 263.21M671.33 263.21L677.52 257.02" stroke="#0000ff" stroke-width="1.15" fill="none"/>
<line x1="634.12" y1="231.99" x2="674.42" y2="248.47" stroke="#0000ff" stroke-width="1.15"/>
<path d="M629.83 231.99H638.42M634.12 227.69V236.29M631.03 228.89L637.22 235.08M631.03 235.08L637.22 228.89" stroke="#0000ff" stroke-width="1.15" fill="none"/>
<path d="M670.12 248.47H678.72M674.42 244.17V252.77M671.33 245.38L677.52 251.57M671.33 251.57L677.52 245.38" stroke="#0000ff" stroke-width="1.15" fill="none"/>
<line x1="634.12" y1="207.55" x2="634.12" y2="197.85" stroke="#1a1a1a" stroke-width="1.25"/>
<line x1="631.83" y1="207.55" x2="636.42" y2="207.55" stroke="#1a1a1a" stroke-width="1.25"/>
<line x1="631.83" y1="197.85" x2="636.42" y2="197.85" stroke="#1a1a1a" stroke-width="1.25"/>
<line x1="674.42" y1="246.55" x2="674.42" y2="236.85" stroke="#1a1a1a" stroke-width="1.25"/>
<line x1="672.12" y1="246.55" x2="676.72" y2="246.55" stroke="#1a1a1a" stroke-width="1.25"/>
<line x1="672.12" y1="236.85" x2="676.72" y2="236.85" stroke="#1a1a1a" stroke-width="1.25"/>
<line x1="496.1" y1="109.3" x2="537" y2="109.3" stroke="#000000" stroke-width="1.35"/>
<path d="M515.3 104.6L515.3 102.3M515.3 104.6L517.49 103.89M515.3 104.6L516.65 106.46M515.3 104.6L513.95 106.46M515.3 104.6L513.11 103.89" stroke="#000" stroke-width="1.3" stroke-linecap="round" fill="none"/>
<line x1="635" y1="141.6" x2="676.1" y2="141.6" stroke="#000000" stroke-width="1.35"/>
<path d="M656.2 137L656.2 134.7M656.2 137L658.39 136.29M656.2 137L657.55 138.86M656.2 137L654.85 138.86M656.2 137L654.01 136.29" stroke="#000" stroke-width="1.3" stroke-linecap="round" fill="none"/>
<rect x="442.7" y="29.3" width="282.1" height="242.45" fill="none" stroke="#484848" stroke-width="1.5"/>
<line x1="442.7" y1="271.75" x2="445.9" y2="271.75" stroke="#484848" stroke-width="1.5"/>
<line x1="724.8" y1="271.75" x2="721.6" y2="271.75" stroke="#484848" stroke-width="1.5"/>
<text x="436.2" y="278.95" font-size="18.8" text-anchor="end" font-weight="normal" fill="#333333" >0</text>
<line x1="442.7" y1="223.26" x2="445.9" y2="223.26" stroke="#484848" stroke-width="1.5"/>
<line x1="724.8" y1="223.26" x2="721.6" y2="223.26" stroke="#484848" stroke-width="1.5"/>
<text x="436.2" y="230.46" font-size="18.8" text-anchor="end" font-weight="normal" fill="#333333" >5</text>
<line x1="442.7" y1="174.77" x2="445.9" y2="174.77" stroke="#484848" stroke-width="1.5"/>
<line x1="724.8" y1="174.77" x2="721.6" y2="174.77" stroke="#484848" stroke-width="1.5"/>
<text x="436.2" y="181.97" font-size="18.8" text-anchor="end" font-weight="normal" fill="#333333" >0</text>
<path d="M422.25 169.37V181.47" stroke="#333333" stroke-width="1.6" fill="none"/>
<path d="M422.05 169.47C421.25 171.17 419.45 172.17 417.85 172.57" stroke="#333333" stroke-width="1.5" fill="none"/>
<line x1="442.7" y1="126.28" x2="445.9" y2="126.28" stroke="#484848" stroke-width="1.5"/>
<line x1="724.8" y1="126.28" x2="721.6" y2="126.28" stroke="#484848" stroke-width="1.5"/>
<text x="436.2" y="133.48" font-size="18.8" text-anchor="end" font-weight="normal" fill="#333333" >5</text>
<path d="M422.25 120.88V132.98" stroke="#333333" stroke-width="1.6" fill="none"/>
<path d="M422.05 120.98C421.25 122.68 419.45 123.68 417.85 124.08" stroke="#333333" stroke-width="1.5" fill="none"/>
<line x1="442.7" y1="77.79" x2="445.9" y2="77.79" stroke="#484848" stroke-width="1.5"/>
<line x1="724.8" y1="77.79" x2="721.6" y2="77.79" stroke="#484848" stroke-width="1.5"/>
<text x="436.2" y="84.99" font-size="18.8" text-anchor="end" font-weight="normal" fill="#333333" >20</text>
<line x1="442.7" y1="29.3" x2="445.9" y2="29.3" stroke="#484848" stroke-width="1.5"/>
<line x1="724.8" y1="29.3" x2="721.6" y2="29.3" stroke="#484848" stroke-width="1.5"/>
<text x="436.2" y="36.5" font-size="18.8" text-anchor="end" font-weight="normal" fill="#333333" >25</text>
<line x1="513.23" y1="271.75" x2="513.23" y2="268.55" stroke="#484848" stroke-width="1.5"/>
<line x1="513.23" y1="29.3" x2="513.23" y2="32.5" stroke="#484848" stroke-width="1.5"/>
<line x1="654.27" y1="271.75" x2="654.27" y2="268.55" stroke="#484848" stroke-width="1.5"/>
<line x1="654.27" y1="29.3" x2="654.27" y2="32.5" stroke="#484848" stroke-width="1.5"/>
<text x="513.33" y="296.3" font-size="18.1" text-anchor="middle" font-weight="normal" fill="#333333" >Walk</text>
<text x="653.98" y="295.5" font-size="18.1" text-anchor="middle" font-weight="normal" fill="#333333" >Sit</text>
<text x="0" y="0" font-size="18.2" text-anchor="middle" font-weight="normal" fill="#333333" transform="translate(408.5 150.53) rotate(-90)">Flexibility score</text>
<rect x="619.4" y="8.5" width="130.1" height="49" fill="#fff" stroke="#484848" stroke-width="1.5"/>
<rect x="627" y="13.6" width="39.6" height="16.8" fill="#4d4d4d" stroke="#000" stroke-width="1"/>
<rect x="627" y="36" width="39.6" height="16.4" fill="#b3b3b3" stroke="#000" stroke-width="1"/>
<text x="670.9" y="28.8" font-size="16.5" text-anchor="start" font-weight="normal" fill="#333333" >Free</text>
<text x="670.9" y="51.3" font-size="16.5" text-anchor="start" font-weight="normal" fill="#333333" >Restricted</text>
<text x="394.5" y="16.2" font-size="20" text-anchor="start" font-weight="bold" fill="#000" >b</text>
<circle cx="418.2" cy="10.2" r="0.95" fill="#111"/>
</svg>
</body></html>
